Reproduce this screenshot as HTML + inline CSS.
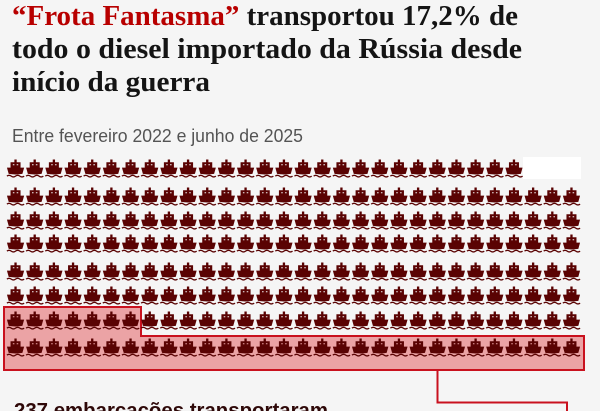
<!DOCTYPE html>
<html>
<head>
<meta charset="utf-8">
<style>
  html,body{margin:0;padding:0;background:#f5f5f5;}
  body{width:600px;height:411px;overflow:hidden;}
  svg{display:block;}
</style>
</head>
<body>
<svg width="600" height="411" viewBox="0 0 600 411" xmlns="http://www.w3.org/2000/svg">
  <defs>
    <g id="ship">
      <rect x="11" y="0.5" width="2" height="3.5" />
      <path fill-rule="evenodd" d="M6,4 H18 V10.5 H6 Z M8,5.6 V8 H11 V5.6 Z M13,5.6 V8 H16 V5.6 Z"/>
      <path d="M1.5,11 H22.5 L20.5,18.2 Q12,19.6 3.5,18.2 Z"/>
      <path d="M0.8,21.6 q2.8,-2.2 5.6,0 t5.6,0 t5.6,0 t5.6,0" fill="none" stroke-width="1.7"/>
    </g>
  </defs>
  <rect width="600" height="411" fill="#f5f5f5"/>

  <!-- Title -->
  <g font-family="'Liberation Serif', serif" font-weight="bold" font-size="28" fill="#141414">
    <text x="12" y="25" textLength="506" lengthAdjust="spacingAndGlyphs"><tspan fill="#b80000">“Frota Fantasma”</tspan> transportou 17,2% de</text>
    <text x="12" y="58" textLength="510" lengthAdjust="spacingAndGlyphs">todo o diesel importado da Rússia desde</text>
    <text x="12" y="91" textLength="198" lengthAdjust="spacingAndGlyphs">início da guerra</text>
  </g>
  <text x="12" y="142" font-family="'Liberation Sans', sans-serif" font-size="18" fill="#545454" textLength="291" lengthAdjust="spacingAndGlyphs">Entre fevereiro 2022 e junho de 2025</text>

  <!-- highlight box -->
  <path d="M4,307 H141 V336 H584 V370 H4 Z" fill="#eba3a5" stroke="#c9111e" stroke-width="2"/>
  <!-- connector -->
  <path d="M437.5,370 V402.5 H567 V412" fill="none" stroke="#c9111e" stroke-width="2"/>

  <!-- white rect -->
  <rect x="523" y="157" width="58" height="22" fill="#ffffff"/>

  <!-- ship grid -->
  <g id="grid" fill="#5a0303" stroke="#5a0303"></g>

  <text x="14" y="417" font-family="'Liberation Sans', sans-serif" font-weight="bold" font-size="20" fill="#2e0808" textLength="314" lengthAdjust="spacingAndGlyphs">237 embarcações transportaram</text>
</svg>
<script>
(function(){
  var g=document.getElementById('grid');
  var ns='http://www.w3.org/2000/svg';
  var s=0.77;
  var tops=[160,188,212,235,263,287,312,339];
  for(var r=0;r<8;r++){
    var n=(r===0)?27:30;
    for(var c=0;c<n;c++){
      var x=6.3+c*19.17;
      var y=tops[r]-0.5;
      var u=document.createElementNS(ns,'use');
      u.setAttribute('href','#ship');
      u.setAttribute('transform','translate('+x.toFixed(2)+','+y.toFixed(2)+') scale('+s+')');
      g.appendChild(u);
    }
  }
})();
</script>
</body>
</html>
